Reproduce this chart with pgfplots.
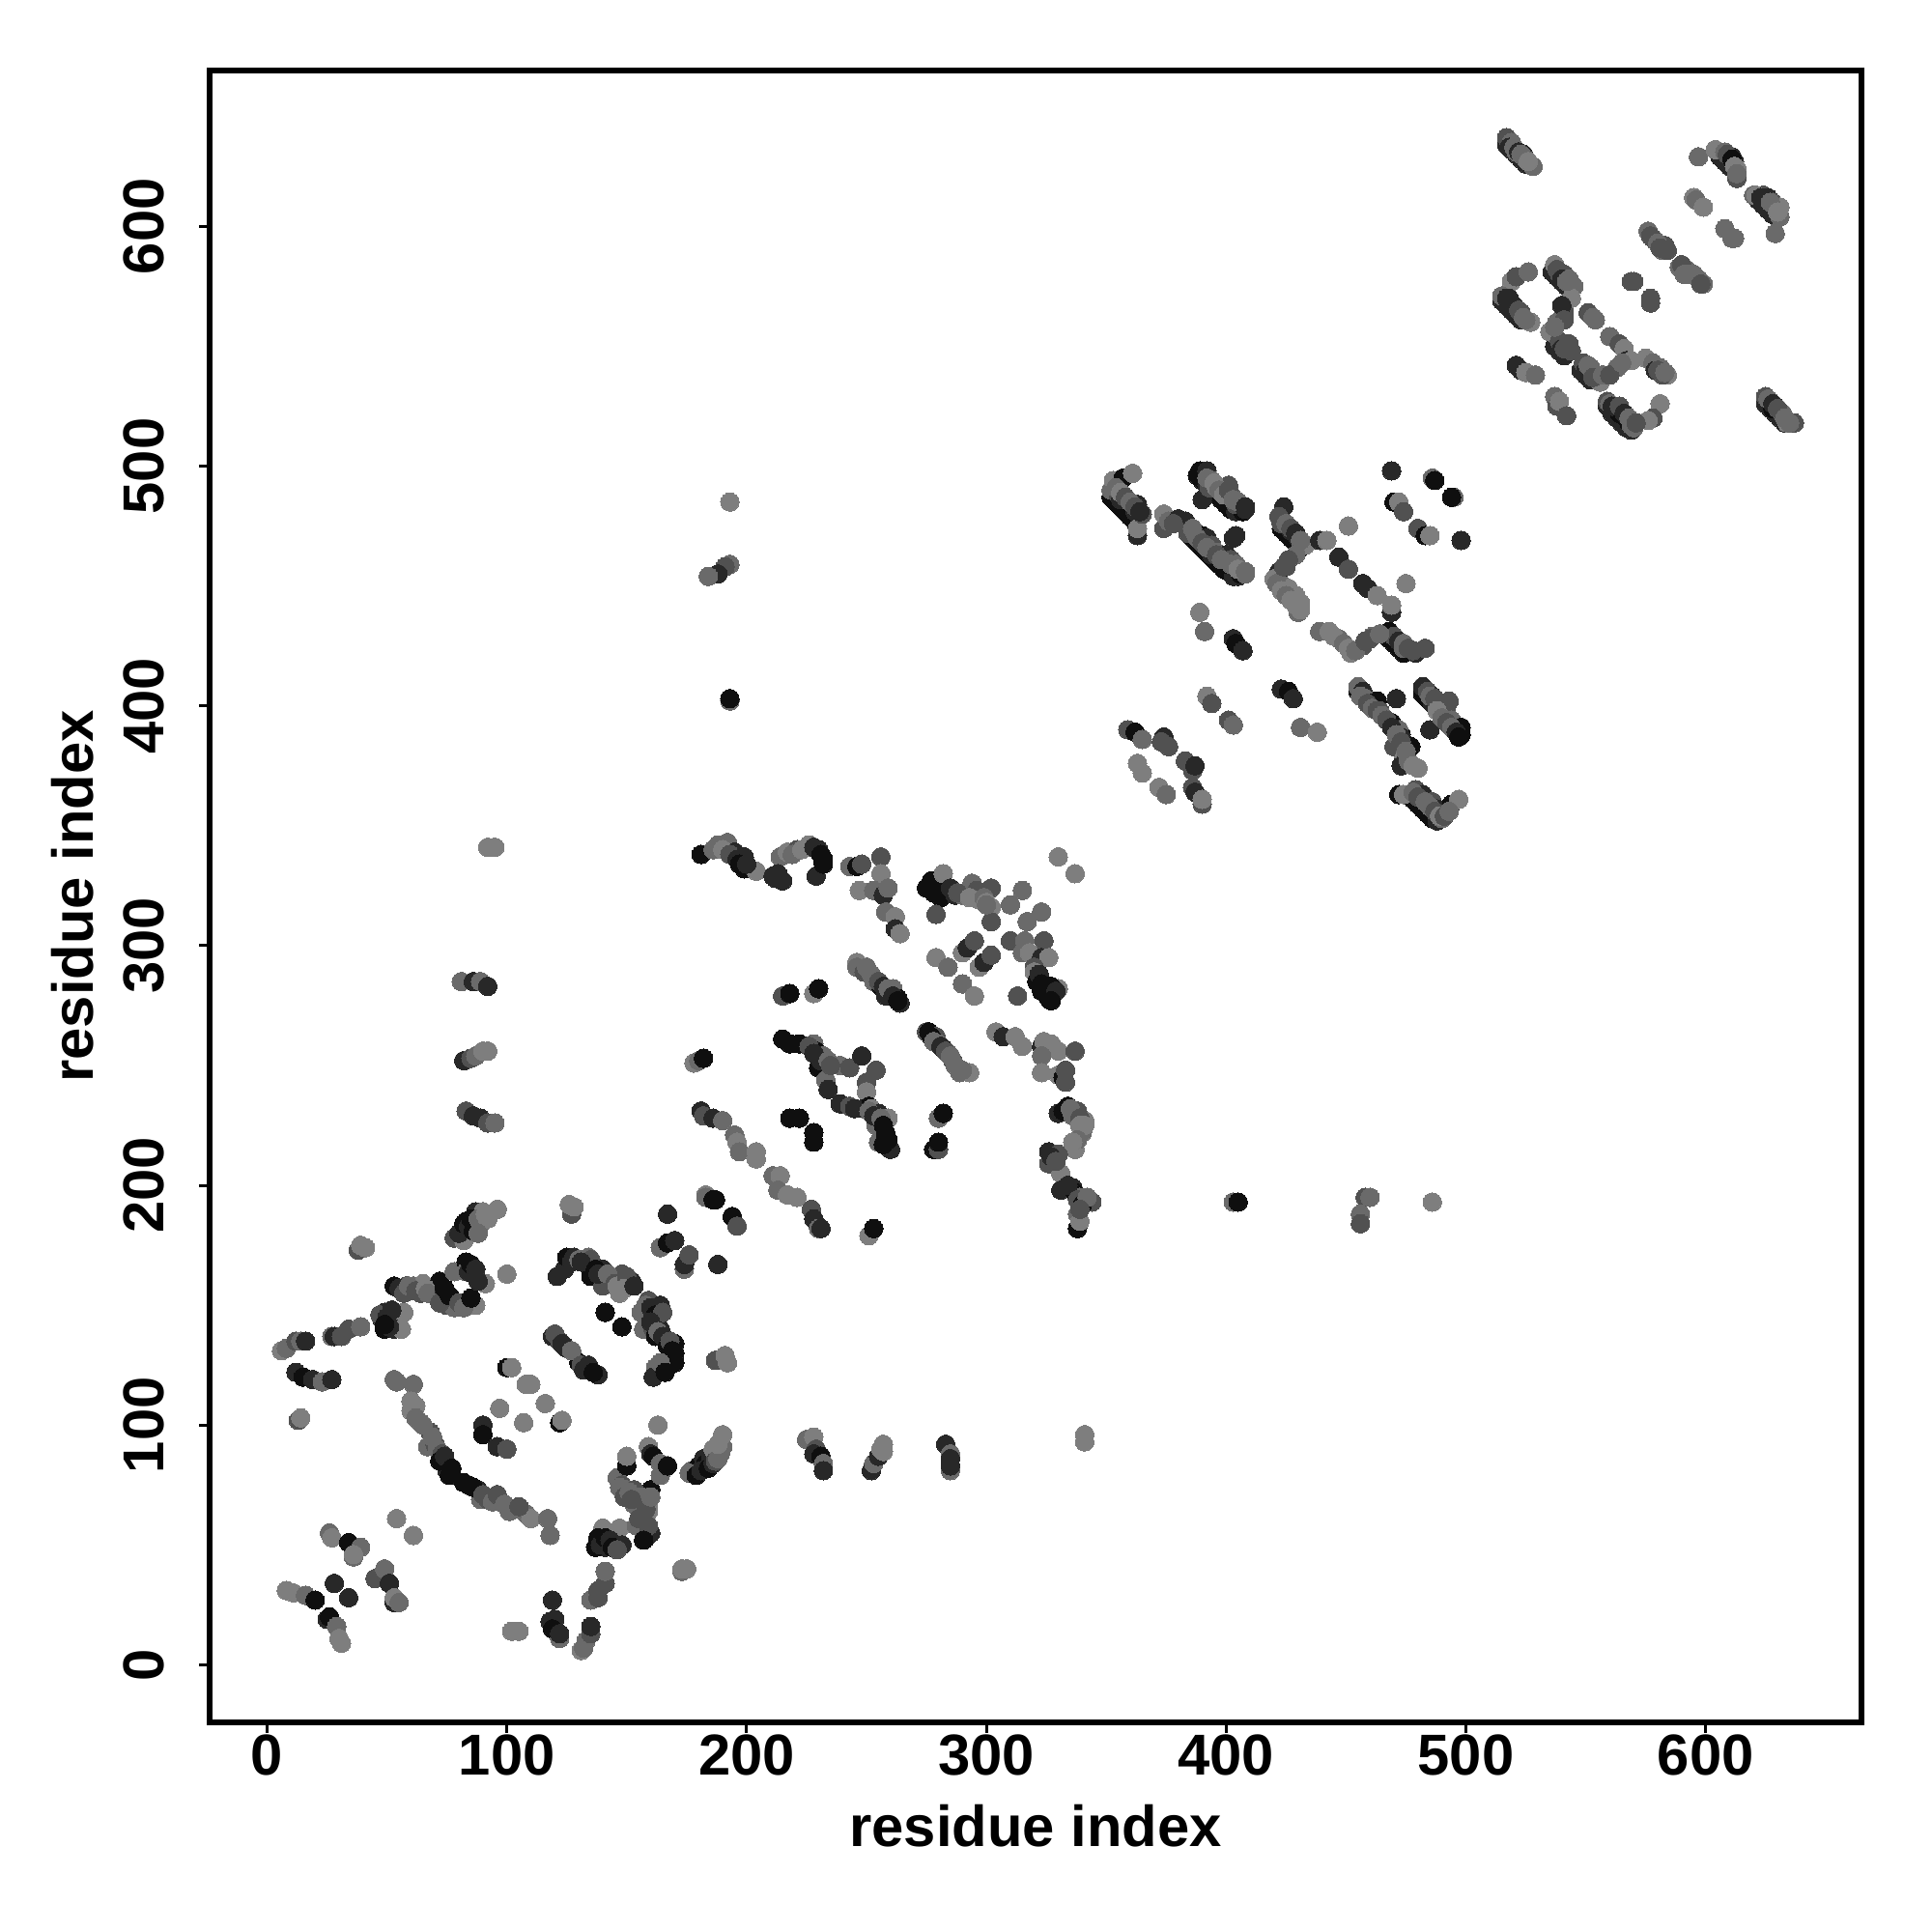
\documentclass[border=0pt]{standalone}
\usepackage{fontspec}
\setmainfont{Liberation Sans}
\usepackage{pgfplots}
\pgfplotsset{compat=1.18}
\begin{document}
\begin{tikzpicture}
\path[use as bounding box] (0,0) rectangle (20cm,20cm);
\begin{axis}[
  at={(2.17cm,2.17cm)},anchor=south west,
  scale only axis,width=17.1cm,height=17.1cm,
  xmin=-24,xmax=665,ymin=-24,ymax=665,
  xtick={0,100,200,300,400,500,600},ytick={0,100,200,300,400,500,600},
  axis line style={line width=1.5pt},
  tick style={line width=0.85pt,black},
  tick align=outside,major tick length=1.05mm,
  xtick pos=bottom,ytick pos=left,
  /pgf/number format/assume math mode=true,
  tick label style={font=\fontsize{17}{20}\selectfont\bfseries},
  x tick label style={yshift=1mm},
  y tick label style={xshift=-2.35mm,rotate=90,anchor=south},
  xlabel={residue index},ylabel={residue index},
  label style={font=\fontsize{17}{20}\selectfont\bfseries},
  xlabel style={at={(axis description cs:0.5,0)},anchor=north,yshift=-7.3mm},
  ylabel style={at={(axis description cs:0,0.5)},anchor=south,yshift=10.75mm},
  colormap={grayscale}{rgb255=(0,0,0) rgb255=(255,255,255)},
  point meta min=0,point meta max=255,
]
\addplot[scatter,only marks,mark=*,mark size=0.96mm,mark options={line width=0pt},
  scatter/use mapped color={draw=mapped color,fill=mapped color},point meta=explicit]
coordinates {
(352,487)[15] (354,485)[15] (356,483)[15] (358,481)[15] (360,479)[15] (362,477)[15] (362,481)[40]
(385,471)[15] (387,469)[15] (389,467)[15] (391,465)[15] (393,463)[15] (395,461)[15] (397,459)[15] (399,457)[15] (401,456)[15] (403,454)[40] (405,454)[40]
(388,496)[15] (390,494)[15] (392,492)[40] (394,490)[40] (396,488)[40] (398,486)[15] (400,484)[15] (402,482)[15] (404,481)[40] (407,481)[15]
(423,474)[15] (425,472)[15] (427,470)[15] (429,468)[15] (431,466)[15]
(455,406)[15] (457,404)[15] (459,402)[15] (461,400)[15] (463,398)[15] (465,396)[15] (467,394)[15] (469,392)[15] (471,390)[15] (473,388)[15]
(482,405)[15] (484,403)[15] (486,401)[40] (488,399)[40] (490,396)[15] (492,394)[15] (494,392)[15] (496,390)[15] (498,388)[15]
(476,363)[15] (478,361)[15] (480,359)[15] (482,357)[15] (484,355)[15] (486,353)[15] (488,352)[40]
(468,428)[15] (470,426)[15] (472,424)[15] (474,422)[15]
(275,324)[15] (278,322)[15] (281,320)[15]
(517,634)[40] (519,632)[40] (521,630)[40] (523,628)[40] (525,626)[40]
(515,569)[40] (517,567)[40] (519,565)[40] (521,563)[40] (523,561)[40]
(536,581)[40] (538,579)[40] (540,577)[40] (542,575)[40]
(559,525)[40] (561,522)[40] (563,520)[40] (565,518)[40] (567,516)[40] (569,515)[40]
(625,526)[40] (627,524)[40] (629,522)[40] (631,520)[40] (633,518)[40]
(606,629)[40] (608,627)[40] (610,625)[40]
(622,611)[40] (624,609)[40] (626,607)[40] (628,605)[40]
(548,540)[40] (550,538)[40] (552,536)[40]
(537,550)[40] (539,548)[40] (541,546)[40] (543,548)[40]
(8,31)[125] (11,30)[125] (16,29)[105] (25,19)[40] (20,27)[15] (26,20)[15] (29,16)[105] (30,11)[125] (31,9)[125]
(28,34)[40] (34,28)[40]
(45,36)[80] (49,40)[105] (51,34)[40] (53,26)[40] (53,28)[125] (55,26)[105]
(26,55)[105] (27,53)[125] (34,51)[15] (39,49)[105] (36,45)[105] (36,46)[125]
(54,61)[125] (61,54)[125]
(102,14)[125] (105,14)[125]
(119,27)[40] (118,18)[40] (120,19)[40] (119,15)[15] (122,11)[105] (122,13)[40]
(133,10)[105] (131,6)[125] (132,7)[105] (135,13)[80] (135,16)[40]
(135,27)[105] (138,28)[80] (138,31)[80] (141,34)[80] (141,39)[105]
(173,39)[105] (173,40)[125] (175,40)[125]
(140,57)[125] (147,57)[125] (138,53)[15] (140,51)[15] (141,49)[40] (143,50)[40] (145,50)[80] (148,50)[40]
(157,56)[105] (158,53)[40] (154,58)[105] (155,65)[105] (158,60)[80] (159,64)[125] (159,67)[125] (160,73)[15]
(146,78)[105] (148,75)[80] (150,73)[105] (153,73)[80] (150,83)[15] (150,87)[125]
(159,91)[125] (160,88)[40] (161,87)[15] (164,79)[105] (164,84)[105] (167,83)[15] (163,100)[125]
(177,81)[105] (178,81)[80] (180,83)[15] (182,86)[40] (183,84)[15] (185,86)[40] (189,88)[105] (186,90)[125] (190,91)[105] (190,96)[125]
(53,119)[105] (54,118)[105] (61,117)[105]
(60,110)[125] (62,108)[125] (64,101)[105] (68,97)[80] (67,91)[105] (70,92)[80] (72,88)[15] (74,84)[40] (75,81)[40]
(82,76)[15] (84,75)[15] (88,73)[40] (89,69)[105] (92,69)[80] (97,68)[80] (101,64)[105] (108,63)[105] (110,61)[125] (117,61)[105] (118,54)[105]
(90,100)[40] (90,96)[15] (96,91)[40] (100,90)[80]
(97,107)[125] (107,101)[125]
(100,124)[15] (102,124)[125] (108,117)[125] (110,117)[125] (116,109)[125] (122,101)[15] (123,102)[125]
(13,102)[80] (14,103)[125]
(12,122)[125] (12,122)[40] (15,120)[15] (19,119)[40] (23,118)[105] (27,119)[40]
(6,131)[125] (8,132)[105] (12,135)[80] (14,135)[105] (16,135)[40]
(27,137)[105] (28,137)[40] (31,137)[80] (34,140)[80] (39,141)[105]
(49,147)[40] (48,144)[40] (49,140)[15] (51,143)[40] (53,140)[40] (56,140)[125] (57,147)[125]
(53,158)[15] (58,158)[80] (61,158)[105] (64,155)[80] (65,159)[125] (72,160)[15] (72,153)[80] (75,150)[80] (78,149)[105] (84,150)[15] (87,150)[125]
(78,164)[105] (83,168)[15] (83,164)[105] (86,163)[15] (91,159)[125] (100,163)[125]
(38,173)[80] (39,175)[125] (41,174)[125]
(78,178)[80] (82,177)[125] (82,182)[15] (83,185)[15] (86,183)[15] (87,189)[40] (90,189)[125] (96,190)[125]
(127,188)[80] (126,192)[125] (128,191)[125]
(167,188)[40] (183,196)[125] (187,194)[15] (194,187)[15] (196,183)[80]
(164,174)[105] (167,176)[15] (170,177)[40] (174,165)[105] (174,167)[40] (176,171)[80] (188,167)[40]
(121,162)[40] (124,165)[40] (125,170)[15] (128,170)[40] (134,170)[105] (135,169)[80] (135,162)[15] (140,165)[40] (140,158)[80] (147,155)[125] (148,163)[80] (150,158)[105] (152,160)[40]
(141,147)[15] (148,141)[15]
(159,152)[80] (156,147)[105] (164,150)[40] (157,140)[105] (161,140)[80] (164,140)[40] (162,137)[15] (166,136)[15] (170,134)[15] (170,126)[15] (166,124)[15] (162,124)[105] (161,120)[40]
(119,137)[40] (121,136)[40] (122,135)[80] (125,132)[40] (130,126)[15] (133,124)[40] (135,123)[80] (138,121)[40]
(187,127)[80] (191,129)[125] (192,126)[125]
(181,338)[15] (186,340)[105] (191,342)[80] (192,343)[105] (195,339)[40] (199,337)[40] (199,332)[15] (204,331)[125]
(211,329)[40] (215,327)[40] (214,337)[105] (217,339)[125] (221,340)[80] (226,342)[125] (230,340)[40] (229,329)[40] (232,335)[15] (232,334)[15]
(243,333)[105] (246,333)[15] (248,334)[80] (256,337)[80] (247,323)[125] (256,330)[125] (253,323)[105] (257,321)[40] (259,324)[105]
(258,314)[105] (262,312)[125] (262,307)[40] (264,305)[125]
(277,327)[15] (279,325)[15] (283,323)[15] (282,330)[125] (287,321)[40] (290,321)[105] (291,322)[40] (294,326)[105] (296,323)[80] (297,319)[125] (302,324)[80] (302,316)[125] (302,310)[80] (310,317)[105] (315,323)[105] (317,310)[105] (323,314)[105] (330,337)[125] (337,330)[125]
(279,313)[80]
(279,295)[125] (284,291)[105] (290,297)[125] (292,299)[40] (295,302)[80] (297,291)[125] (299,293)[40] (302,296)[80] (290,284)[105] (295,279)[125]
(310,302)[80] (316,302)[105] (324,302)[80] (315,297)[105] (318,297)[125] (323,295)[40] (326,295)[125] (320,291)[80] (320,289)[125] (321,285)[15] (323,281)[15] (327,280)[15] (326,278)[15] (330,282)[125] (313,279)[80]
(215,279)[80] (218,280)[15] (228,280)[125] (230,282)[15]
(246,293)[125] (246,291)[105] (249,289)[80] (253,285)[105] (256,283)[15] (258,279)[40] (261,282)[105] (263,278)[15] (264,276)[40]
(215,261)[15] (218,259)[15] (222,259)[15] (228,259)[105] (229,256)[15] (232,254)[105] (233,250)[80] (230,249)[15] (239,250)[105] (243,249)[80] (248,254)[40] (254,248)[80] (250,243)[80] (250,239)[125] (233,244)[105] (234,240)[40]
(275,264)[80] (276,264)[15] (279,262)[80] (280,259)[105] (282,257)[15] (284,255)[105] (286,252)[80] (289,247)[105] (293,247)[125]
(304,264)[125] (307,262)[40] (312,262)[125] (315,258)[125] (323,258)[40] (324,260)[125] (327,259)[125] (330,256)[125] (337,256)[80] (323,254)[105] (323,247)[125] (330,246)[125] (332,245)[15] (333,243)[80] (333,248)[80]
(239,234)[40] (243,233)[80] (249,232)[40] (251,233)[15] (252,232)[125] (255,230)[40] (259,228)[125]
(254,225)[105] (255,218)[105] (258,221)[15] (258,218)[15] (260,215)[40]
(218,228)[15] (222,228)[15] (228,222)[15] (228,218)[15]
(280,228)[105] (282,230)[15] (278,215)[15] (280,215)[80] (280,218)[15]
(178,251)[125] (180,252)[105] (182,253)[15]
(181,231)[40] (182,229)[80] (186,228)[40] (190,227)[105] (195,221)[105] (196,218)[125] (197,214)[105] (204,214)[125] (204,211)[125] (211,204)[105] (214,204)[125] (213,198)[105] (217,196)[125] (221,195)[125] (227,190)[80] (228,186)[40] (230,182)[105] (231,182)[40]
(183,195)[105] (186,194)[15] (194,187)[15] (196,183)[80]
(251,179)[125] (253,182)[15]
(330,230)[40] (334,233)[15] (338,231)[80] (341,227)[125] (340,222)[105] (337,215)[125] (326,214)[40] (330,213)[80] (326,209)[80] (331,205)[125] (331,198)[40] (336,199)[40] (337,197)[15] (339,195)[105] (344,193)[80] (338,188)[105] (338,182)[15] (339,185)[125]
(225,94)[105] (228,95)[125] (229,90)[80] (228,88)[40] (231,87)[15] (232,84)[105] (232,81)[40]
(252,81)[40] (253,84)[105] (255,87)[40] (256,90)[125] (257,92)[125] (257,89)[125]
(283,92)[40] (285,88)[105] (285,86)[40] (285,81)[105] (285,83)[40]
(341,96)[125] (341,93)[125]
(403,193)[105] (405,193)[15] (458,195)[80] (460,195)[105] (456,188)[105] (456,184)[80] (486,193)[125]
(193,402)[105] (193,403)[15] (193,459)[105] (191,458)[80] (188,455)[40] (184,454)[105] (193,485)[125]
(92,341)[125] (95,341)[125]
(81,285)[105] (86,285)[40] (89,285)[105] (92,283)[40]
(82,252)[40] (85,253)[80] (87,254)[105] (90,256)[125] (92,256)[125]
(83,231)[80] (86,229)[40] (89,228)[40] (92,226)[80] (95,226)[105]
(352,490)[105] (353,494)[125] (355,488)[80] (357,495)[15] (357,488)[105] (361,497)[125] (356,486)[40] (363,484)[40] (363,471)[40] (363,474)[125] (365,480)[80]
(374,474)[80] (374,480)[125] (376,477)[105] (380,478)[40] (383,477)[40] (384,472)[80] (387,472)[105] (390,471)[15] (392,470)[40] (394,463)[40] (394,467)[80] (396,464)[105] (399,459)[15] (400,463)[40] (402,461)[80] (404,459)[105] (406,455)[15] (408,455)[105] (403,470)[40] (404,471)[40]
(389,498)[15] (392,498)[40] (394,494)[105] (390,486)[40] (393,491)[80] (396,491)[125] (401,492)[80] (402,488)[105] (404,484)[80] (408,483)[40] (408,482)[40]
(389,439)[125] (391,431)[105] (403,428)[40] (404,426)[15] (407,423)[40]
(424,483)[40] (422,479)[80] (423,476)[80] (427,473)[40] (430,470)[40] (433,467)[125] (439,469)[40] (442,469)[125] (451,475)[125] (429,463)[105] (425,458)[80] (422,456)[40] (420,453)[125] (424,450)[105] (426,449)[125] (430,439)[105] (429,446)[125] (431,443)[125]
(447,462)[40] (451,457)[80] (457,451)[40] (459,449)[40] (463,446)[125] (475,451)[125] (469,439)[40] (469,442)[125]
(439,431)[105] (443,431)[125] (447,428)[105] (452,422)[125] (457,425)[80] (461,429)[105] (468,431)[15] (470,429)[80] (472,427)[40] (474,424)[105] (479,422)[40] (483,424)[80]
(469,498)[40] (486,495)[105] (487,494)[15] (495,487)[105] (494,487)[15] (470,485)[15] (472,485)[125] (474,481)[80] (480,474)[80] (483,471)[15] (485,471)[125] (498,469)[40]
(423,407)[40] (426,406)[15] (428,403)[40] (431,391)[105] (438,389)[125]
(392,404)[125] (394,401)[80] (401,394)[80] (403,392)[105]
(359,390)[80] (362,389)[15] (365,386)[105] (374,387)[40] (373,385)[80] (376,383)[80]
(363,376)[125] (365,372)[125] (372,366)[125] (375,363)[105] (383,377)[80] (386,373)[80] (387,375)[40] (386,366)[80] (387,364)[40] (390,359)[80] (390,361)[125]
(455,408)[105] (457,406)[40] (458,403)[105] (463,402)[15] (464,398)[80] (471,403)[40] (469,393)[15] (472,390)[105] (473,387)[40] (477,383)[15] (470,383)[80] (474,378)[125] (473,375)[40] (480,374)[125]
(472,363)[15] (474,363)[125] (479,365)[80] (482,363)[40] (486,360)[80] (488,357)[40] (490,353)[105] (492,357)[40] (494,359)[15] (497,361)[125]
(482,408)[40] (484,406)[80] (486,404)[40] (489,400)[105] (493,402)[80] (485,390)[40] (492,397)[80] (494,394)[105] (497,389)[40] (498,391)[15]
(517,637)[80] (519,635)[105] (518,633)[40] (521,631)[105] (524,630)[40] (525,628)[105] (528,625)[105]
(597,629)[105] (604,632)[125] (608,631)[105] (611,629)[40] (612,627)[40] (613,620)[80] (613,624)[125]
(620,613)[105] (624,613)[80] (626,612)[40] (628,610)[80] (631,604)[105] (631,608)[125]
(595,612)[125] (596,611)[105] (599,608)[125]
(608,599)[105] (611,595)[105] (612,595)[105] (629,597)[105]
(576,598)[105] (577,596)[80] (579,594)[105] (582,590)[105] (583,592)[80]
(589,583)[105] (592,582)[105] (595,580)[105] (599,576)[105]
(569,577)[80] (570,577)[80] (577,570)[80] (577,568)[80]
(519,577)[125] (521,579)[80] (526,581)[105]
(536,581)[40] (537,584)[125] (538,582)[80] (541,580)[80] (544,576)[125] (545,575)[105]
(515,571)[105] (518,570)[40] (520,567)[40] (519,565)[40] (523,564)[80] (527,560)[125]
(544,570)[125] (541,564)[80] (538,560)[105] (535,556)[125] (539,552)[80] (540,549)[40] (542,550)[80] (551,564)[80] (554,561)[105] (560,554)[105] (564,551)[80] (566,549)[125]
(549,543)[80] (550,540)[40] (552,541)[105] (556,535)[125] (563,541)[105] (567,544)[40] (569,544)[125] (575,545)[125] (578,543)[105] (579,540)[40] (581,541)[105] (584,538)[125]
(521,542)[40] (523,540)[40] (525,539)[125] (529,538)[105]
(537,529)[105] (538,525)[80] (539,527)[125] (542,521)[80]
(559,527)[80] (562,524)[40] (564,522)[15] (567,520)[15] (568,518)[15] (570,516)[105] (581,526)[125] (578,520)[80] (576,519)[125]
(625,529)[80] (627,527)[105] (629,525)[40] (628,524)[15] (632,522)[105] (634,518)[125] (637,518)[80]
(354,491)[105] (356,489)[125] (358,487)[80] (360,485)[105] (362,483)[80] (364,481)[40]
(378,476)[80] (386,474)[105] (388,470)[105] (390,468)[80] (392,466)[105] (396,463)[80] (398,461)[105] (402,459)[105] (405,457)[125] (408,456)[105]
(392,495)[105] (395,493)[125] (397,490)[105] (399,488)[125] (401,490)[80] (403,486)[105] (405,485)[105] (408,483)[40]
(425,476)[105] (427,474)[80] (429,472)[40] (431,469)[105]
(421,451)[105] (423,448)[125] (425,446)[105] (427,444)[125] (429,442)[125] (431,440)[125] (426,461)[80] (424,458)[80]
(445,429)[125] (449,426)[105] (451,424)[125] (454,423)[105] (458,427)[80] (460,428)[80] (464,430)[105]
(474,426)[105] (476,424)[80] (478,423)[80]
(456,404)[105] (459,401)[80] (461,399)[105] (463,398)[80] (465,396)[105] (467,394)[80] (469,391)[40] (471,388)[105] (473,385)[80] (475,381)[105] (476,377)[105] (478,375)[125]
(485,404)[105] (487,403)[80] (488,398)[125] (490,395)[105] (492,393)[80] (494,391)[105] (496,389)[40] (497,387)[15]
(478,364)[105] (480,362)[80] (483,360)[105] (485,358)[105] (487,356)[80] (489,354)[125] (491,354)[80] (493,356)[105]
(285,324)[40] (288,322)[80] (293,320)[125] (299,320)[105] (300,318)[125] (300,317)[105]
(188,342)[105] (190,340)[125] (193,338)[80] (196,336)[40] (197,334)[15] (200,334)[40]
(219,338)[105] (223,340)[125] (228,341)[40] (231,338)[15] (232,336)[15] (212,328)[40] (213,330)[40]
(250,291)[105] (252,288)[105] (255,285)[80] (257,283)[40] (259,282)[105] (261,279)[40] (263,277)[15]
(277,262)[15] (278,260)[105] (281,258)[40] (283,256)[80] (285,254)[105] (287,250)[105] (290,248)[105]
(226,258)[80] (228,255)[40] (231,252)[40] (234,252)[105] (235,250)[80]
(245,232)[40] (251,231)[105] (253,229)[40] (256,228)[105] (257,225)[15] (258,222)[15] (257,217)[15] (259,219)[15]
(322,288)[40] (323,284)[15] (325,283)[15] (327,283)[15] (329,281)[40] (327,277)[15]
(332,231)[15] (335,232)[105] (336,229)[105] (339,228)[80] (339,225)[125] (341,225)[125] (338,219)[105] (336,218)[125] (334,200)[40] (338,194)[80] (340,192)[15] (342,195)[105] (339,190)[80]
(327,212)[40] (329,210)[80]
(120,138)[80] (123,134)[40] (124,133)[40] (127,131)[105] (131,125)[80] (132,123)[40] (134,125)[40] (136,122)[15]
(127,168)[40] (130,169)[105] (131,168)[40] (137,165)[15] (138,163)[40] (142,163)[105] (145,159)[80] (146,158)[125] (150,162)[80] (149,157)[125] (153,158)[40]
(157,148)[105] (158,150)[105] (160,149)[40] (162,146)[15] (165,147)[80] (160,143)[40] (163,139)[105] (165,137)[40] (167,133)[15] (168,135)[80] (169,131)[15] (168,128)[15] (170,130)[15] (168,125)[15] (164,126)[105] (166,122)[15]
(55,157)[40] (57,155)[80] (59,158)[105] (62,156)[80] (66,157)[125] (67,155)[105] (74,156)[40] (72,151)[80] (76,154)[15] (74,157)[15] (80,151)[80] (82,149)[105] (85,153)[15] (84,164)[40] (85,167)[15] (87,165)[40] (88,160)[40]
(80,180)[40] (82,184)[15] (84,183)[40] (85,186)[15] (86,181)[15] (88,186)[105] (89,184)[105] (91,188)[125] (92,186)[125] (88,180)[105]
(47,146)[80] (50,145)[40] (51,141)[40] (52,148)[40] (49,142)[15]
(69,95)[105] (71,90)[105] (73,88)[80] (72,85)[15] (74,87)[40] (76,79)[15] (77,82)[15]
(86,74)[15] (90,71)[80] (94,68)[105] (96,71)[80] (99,67)[105] (103,65)[105] (105,66)[80]
(60,106)[125] (62,103)[105] (65,100)[105]
(137,49)[15] (139,50)[40] (141,53)[15] (143,52)[40] (144,49)[15] (146,48)[80]
(153,67)[105] (155,61)[80] (156,70)[105] (158,65)[80] (160,55)[40] (159,58)[80] (157,52)[15] (160,70)[105]
(147,74)[105] (149,70)[80] (151,72)[105] (152,69)[80]
(176,80)[105] (179,79)[15] (181,81)[40] (184,82)[15] (186,84)[40] (187,85)[80] (188,86)[105] (188,92)[125]
(520,633)[105] (522,631)[40] (523,630)[105] (526,627)[125]
(609,630)[80] (611,628)[15] (612,625)[125] (613,622)[105]
(621,613)[125] (623,612)[40] (625,611)[40] (627,610)[105] (630,606)[125]
(578,595)[80] (580,593)[105] (581,591)[80] (584,590)[80]
(590,584)[80] (591,580)[105] (593,580)[105] (597,578)[105] (598,576)[80]
(539,580)[80] (540,578)[40] (542,577)[105] (543,578)[105]
(517,570)[40] (519,566)[40] (522,565)[80] (524,562)[105] (525,561)[105]
(540,567)[40] (541,561)[80] (537,558)[105] (541,549)[80] (543,551)[80] (544,548)[80] (553,562)[105]
(551,542)[105] (553,539)[105] (553,537)[80] (557,538)[105] (560,538)[80] (565,543)[105]
(580,540)[80] (582,538)[80] (583,539)[105]
(560,526)[105] (561,525)[40] (564,525)[80] (566,522)[40] (568,520)[105] (569,517)[105] (571,518)[80]
(626,528)[105] (628,526)[40] (630,524)[80] (633,520)[105] (635,518)[105]
};
\end{axis}
\end{tikzpicture}
\end{document}
